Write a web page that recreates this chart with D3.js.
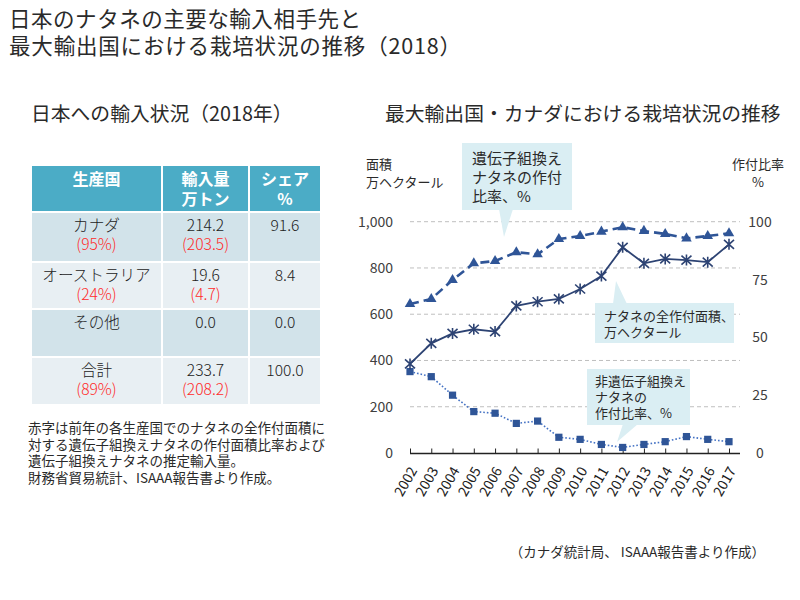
<!DOCTYPE html>
<html><head><meta charset="utf-8">
<script src="https://cdn.jsdelivr.net/npm/d3@7"></script>
<style>
body{margin:0;background:#fff;}
svg{display:block;font-family:"Noto Sans CJK JP","Noto Sans",sans-serif;}
</style></head>
<body>
<svg id="c" width="800" height="600"></svg>
<script>
// ---- data ----
const years = ["2002","2003","2004","2005","2006","2007","2008","2009","2010","2011","2012","2013","2014","2015","2016","2017"];
const totalArea = [385,474,517,535,525,636,654,666,709,765,889,820,839,834,825,902];
const gmRatio = [64.4,66.6,74.8,82,83,86.8,85.9,92.5,93.8,95.7,97.6,96,94.7,92.8,93.8,95];
const nonGmRatio = [35.2,33,25,17.9,17.2,12.8,13.8,6.8,5.9,3.7,2.4,3.7,4.9,7.1,5.9,4.9];
const leftTicks = [0,200,400,600,800,1000];
const rightTicks = [0,25,50,75,100];

const tableHeaders = [["生産国"],["輸入量","万トン"],["シェア","%"]];
const countries = ["カナダ","オーストラリア","その他","合計"];
const gmPct = ["(95%)","(24%)","","(89%)"];
const importVol = ["214.2","19.6","0.0","233.7"];
const gmImport = ["(203.5)","(4.7)","","(208.2)"];
const share = ["91.6","8.4","0.0","100.0"];

const titleLines = ["日本のナタネの主要な輸入相手先と","最大輸出国における栽培状況の推移（2018）"];
const noteLines = ["赤字は前年の各生産国でのナタネの全作付面積に","対する遺伝子組換えナタネの作付面積比率および","遺伝子組換えナタネの推定輸入量。","財務省貿易統計、ISAAA報告書より作成。"];

const svg = d3.select("#c");
const txt = "#2a2a2a";

// multi-line text helper (one <text>, several tspans)
function multi(parent, lines, x, y0, dy, attrs){
  const t = parent.append("text").attr("dominant-baseline","central");
  Object.entries(attrs).forEach(([k,v])=>t.attr(k,v));
  lines.forEach((l,i)=>t.append("tspan").attr("x",x).attr("y",y0+i*dy).text(l));
  return t;
}

// ---- titles ----
const titleW = [352,452];
svg.append("g").selectAll("text").data(titleLines).join("text")
  .attr("x",9).attr("y",(d,i)=>17+i*27.5).attr("dominant-baseline","central")
  .attr("font-size",21.5).attr("fill",txt)
  .attr("textLength",(d,i)=>titleW[i]).attr("lengthAdjust","spacing").text(d=>d);
svg.append("text").attr("x",31).attr("y",112).attr("dominant-baseline","central")
  .attr("font-size",19.8).attr("fill",txt).text("日本への輸入状況（2018年）");
svg.append("text").attr("x",385).attr("y",112).attr("dominant-baseline","central")
  .attr("font-size",19.8).attr("fill",txt).text("最大輸出国・カナダにおける栽培状況の推移");

// ---- table ----
const cols = [{x0:32,x1:161},{x0:163,x1:248},{x0:250,x1:320}];
const headTop = 166, headBot = 211;
const rowTops = [213,263,310,358], rowBots=[261,308,356,404];
const rowFill = ["#D2E3EA","#E8EFF3","#D2E3EA","#E8EFF3"];
const tg = svg.append("g");
cols.forEach((c,ci)=>{
  tg.append("rect").attr("x",c.x0).attr("y",headTop).attr("width",c.x1-c.x0).attr("height",headBot-headTop).attr("fill","#4BACC6");
  multi(tg, tableHeaders[ci], (c.x0+c.x1)/2, 178, 20,
    {"text-anchor":"middle","font-size":16,"font-weight":"bold","fill":"#fff"});
  rowTops.forEach((rt,ri)=>{
    tg.append("rect").attr("x",c.x0).attr("y",rt).attr("width",c.x1-c.x0).attr("height",rowBots[ri]-rt).attr("fill",rowFill[ri]);
  });
});
const colData = [[countries,gmPct],[importVol,gmImport],[share,null]];
colData.forEach((cd,ci)=>{
  const c = cols[ci], cx=(c.x0+c.x1)/2;
  rowTops.forEach((rt,ri)=>{
    const t = tg.append("text").attr("text-anchor","middle").attr("dominant-baseline","central")
      .attr("font-size",15.6).attr("font-weight",300).attr("fill","#222");
    t.append("tspan").attr("x",cx).attr("y",rt+11).text(cd[0][ri]);
    if(cd[1] && cd[1][ri]){
      t.append("tspan").attr("x",cx).attr("y",rt+30).attr("fill","#FF2B2B").text(cd[1][ri]);
    }
  });
});

// note
multi(svg, noteLines, 28, 427, 16.5, {"font-size":13.5,"fill":txt});

// source
svg.append("text").attr("x",765).attr("y",551).attr("text-anchor","end").attr("dominant-baseline","central")
  .attr("font-size",13.5).attr("fill",txt).text("（カナダ統計局、 ISAAA報告書より作成）");

// ---- chart ----
const x = d3.scalePoint().domain(years).range([410,729]);
const y = d3.scaleLinear().domain([0,1000]).range([453,221.7]);
const yR = d3.scaleLinear().domain([0,100]).range([453,221.7]);

// gridlines
svg.append("g").selectAll("line").data(leftTicks.filter(d=>d>0)).join("line")
  .attr("x1",410).attr("x2",740).attr("y1",d=>y(d)).attr("y2",d=>y(d))
  .attr("stroke","#BFBFBF").attr("stroke-width",1).attr("stroke-dasharray","4,3");

// left axis
const gl = svg.append("g").attr("transform","translate(393,0)")
  .call(d3.axisLeft(y).tickValues(leftTicks).tickFormat(d3.format(",")).tickSize(0).tickPadding(0));
gl.select(".domain").remove();
gl.selectAll("text").attr("font-size",14).attr("fill","#404040").attr("font-family","Noto Sans CJK JP");

// right axis
const gr = svg.append("g").attr("transform","translate(760,0)")
  .call(d3.axisRight(yR).tickValues(rightTicks).tickSize(0).tickPadding(0));
gr.select(".domain").remove();
gr.selectAll("text").attr("text-anchor","middle").attr("font-size",14).attr("fill","#404040").attr("font-family","Noto Sans CJK JP");

// bottom axis
const gx = svg.append("g").attr("transform","translate(0,453.5)")
  .call(d3.axisBottom(x).tickSizeInner(-5).tickSizeOuter(0).tickPadding(0));
gx.select(".domain").remove();
gx.selectAll(".tick line").attr("stroke","#222");
gx.selectAll("text").attr("font-size",14).attr("fill","#222").attr("font-family","Noto Sans CJK JP")
  .attr("text-anchor","end").attr("dy",0).attr("dominant-baseline","central")
  .attr("transform","translate(2,14) rotate(-60)");
gx.append("line").attr("x1",410).attr("x2",740).attr("y1",0).attr("y2",0).attr("stroke","#222").attr("stroke-width",1.3);

// unit labels
multi(svg, ["面積","万ヘクタール"], 366, 163, 18, {"font-size":13,"fill":txt});
multi(svg, ["作付比率","%"], 758, 163, 18, {"font-size":13,"fill":txt,"text-anchor":"middle"});

// series
const blue = "#2F5597";
// non-GM (dotted, squares)
svg.append("path").datum(nonGmRatio).attr("fill","none").attr("stroke","#4472C4").attr("stroke-width",1.6)
  .attr("stroke-dasharray","1.6,2")
  .attr("d",d3.line().x((d,i)=>x(years[i])).y(d=>yR(d)));
svg.append("g").selectAll("rect").data(nonGmRatio).join("rect")
  .attr("x",(d,i)=>x(years[i])-3.6).attr("y",d=>yR(d)-3.6).attr("width",7.2).attr("height",7.2).attr("fill",blue);

// total area (solid, star)
svg.append("path").datum(totalArea).attr("fill","none").attr("stroke","#2D4373").attr("stroke-width",1.8)
  .attr("d",d3.line().x((d,i)=>x(years[i])).y(d=>y(d)));
svg.append("g").selectAll("path").data(totalArea).join("path")
  .attr("transform",(d,i)=>`translate(${x(years[i])},${y(d)})`)
  .attr("d","M-5,-4.5L5,4.5M-5,4.5L5,-4.5M0,-5.5L0,5.5")
  .attr("stroke","#2D4373").attr("stroke-width",1.6).attr("fill","none");

// GM (dashed, triangles)
svg.append("path").datum(gmRatio).attr("fill","none").attr("stroke",blue).attr("stroke-width",2.6)
  .attr("stroke-dasharray","9,5")
  .attr("d",d3.line().x((d,i)=>x(years[i])).y(d=>yR(d)));
svg.append("g").selectAll("path").data(gmRatio).join("path")
  .attr("transform",(d,i)=>`translate(${x(years[i])},${yR(d)})`)
  .attr("d",d3.symbol().type(d3.symbolTriangle).size(48))
  .attr("fill",blue);

// ---- callouts ----
const cfill = "#DAEEF3";
function callout(box, ptr, lines, fs, tx, ty0, dy){
  const g = svg.append("g");
  g.append("rect").attr("x",box[0]).attr("y",box[1]).attr("width",box[2]-box[0]).attr("height",box[3]-box[1]).attr("fill",cfill);
  g.append("path").attr("d",d3.line()(ptr)).attr("fill",cfill);
  multi(g, lines, tx, ty0, dy, {"font-size":fs,"fill":txt});
}
callout([462,143,572,210],[[499,209],[513,209],[504,237]],["遺伝子組換え","ナタネの作付","比率、%"],15,472,157,19);
callout([595,303,734,343],[[613,304],[627,304],[616,281]],["ナタネの全作付面積、","万ヘクタール"],13,604,315,16);
callout([587,369,690,425],[[623,424],[638,424],[617,442]],["非遺伝子組換え","ナタネの","作付比率、%"],13,595,380,16);
</script>
</body></html>
